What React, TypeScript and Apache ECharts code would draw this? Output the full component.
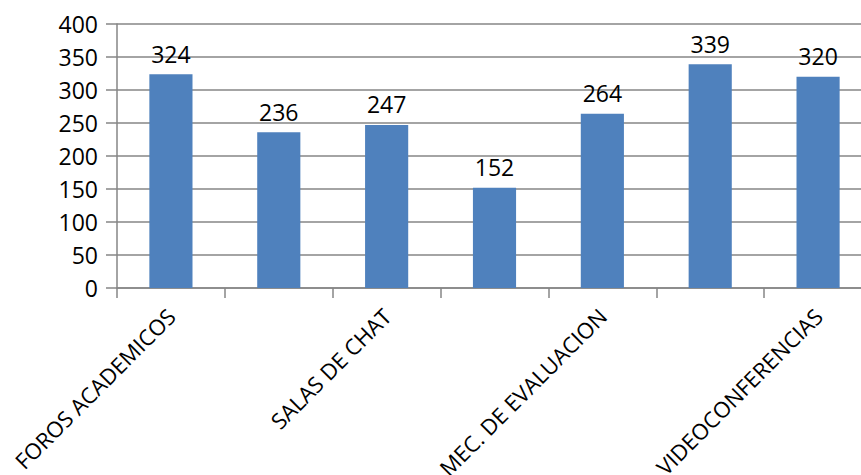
import React, { useEffect, useRef } from "react";
import * as echarts from "echarts";

const categories: string[] = [
  "FOROS ACADEMICOS",
  "CORREO ELECTRONICO",
  "SALAS DE CHAT",
  "WIKIS",
  "MEC. DE EVALUACION",
  "BLOGS",
  "VIDEOCONFERENCIAS",
];
const values: number[] = [324, 236, 247, 152, 264, 339, 320];
const yTicks = { min: 0, max: 400, interval: 50 };

const FONT = "'Open Sans', 'Noto Sans', sans-serif";
const AXIS_GRAY = "#868686";

export default function App() {
  const ref = useRef<HTMLDivElement>(null);
  useEffect(() => {
    if (!ref.current) return;
    const chart = echarts.init(ref.current, undefined, { renderer: "svg" });
    chart.setOption({
      animation: false,
      grid: {
        left: 117,
        top: 24,
        right: -11,
        bottom: 187,
        containLabel: false,
        outerBoundsMode: "none",
      },
      xAxis: {
        type: "category",
        data: categories,
        boundaryGap: true,
        axisLine: { lineStyle: { color: AXIS_GRAY, width: 1.5 } },
        axisTick: { show: true, length: 10, interval: 0, lineStyle: { color: AXIS_GRAY, width: 1.5 } },
        axisLabel: {
          interval: 1,
          rotate: 45,
          margin: 24,
          color: "#000",
          fontFamily: FONT,
          fontSize: 22,
        },
      },
      yAxis: {
        type: "value",
        min: yTicks.min,
        max: yTicks.max,
        interval: yTicks.interval,
        axisLine: { show: true, lineStyle: { color: AXIS_GRAY, width: 1.5 } },
        axisTick: { show: true, length: 11, lineStyle: { color: AXIS_GRAY, width: 1.5 } },
        splitLine: { show: true, lineStyle: { color: AXIS_GRAY, width: 1.5 } },
        axisLabel: { margin: 19, color: "#000", fontFamily: FONT, fontSize: 23 },
      },
      series: [
        {
          type: "bar",
          data: values,
          barWidth: "40%",
          itemStyle: { color: "#4F81BD" },
          label: {
            show: true,
            position: "top",
            distance: 9,
            color: "#000",
            fontFamily: FONT,
            fontSize: 23,
          },
        },
      ],
    });
    return () => chart.dispose();
  }, []);
  return (
    <div
      ref={ref}
      style={{ position: "absolute", left: 0, top: 0, width: 861, height: 475 }}
    />
  );
}
